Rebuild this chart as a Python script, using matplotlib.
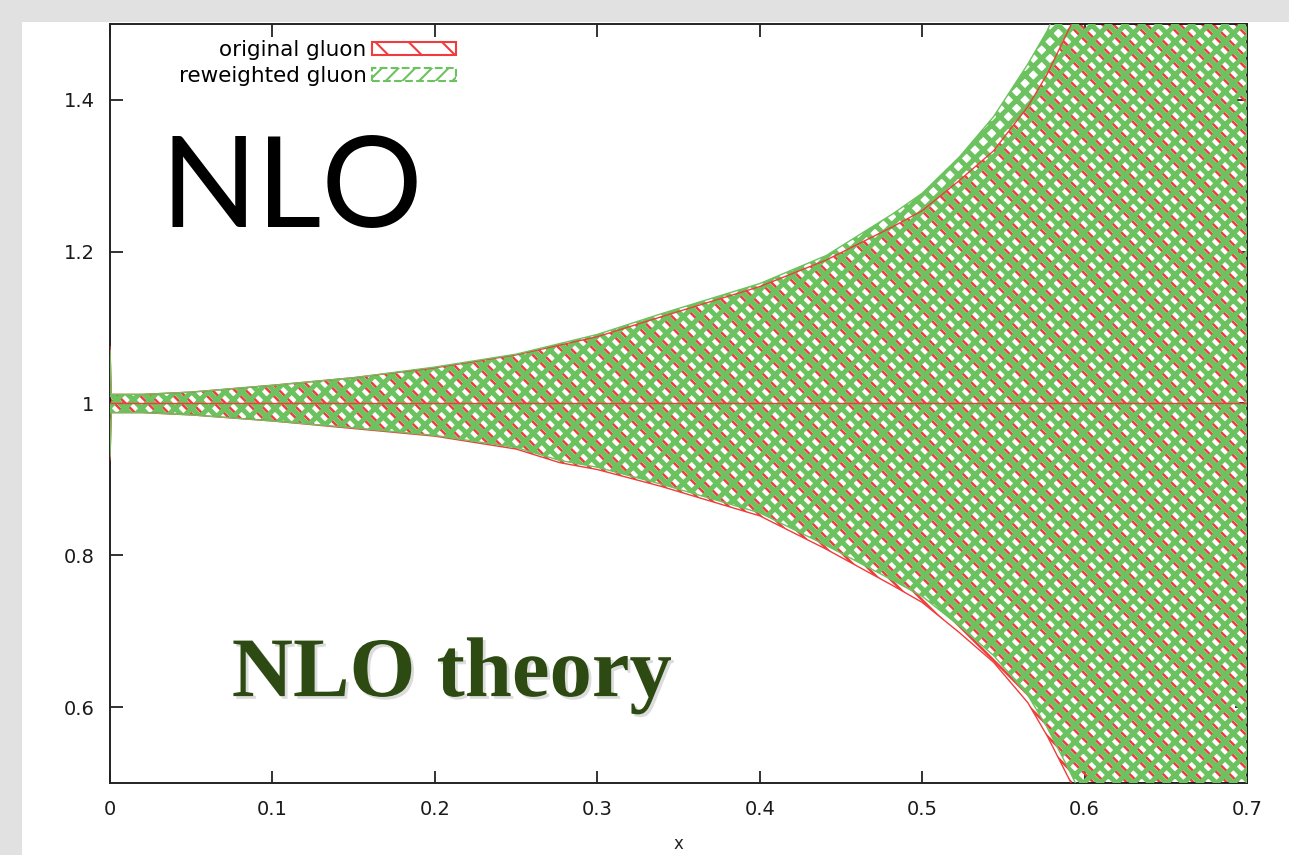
import matplotlib
matplotlib.use("Agg")
import matplotlib.pyplot as plt
import matplotlib.patheffects as pe
from matplotlib.patches import Patch, Rectangle

# ---- data ----
x_vals = [0.0, 0.0008, 0.02, 0.05, 0.1, 0.15, 0.2, 0.25, 0.277, 0.3, 0.339, 0.4,
          0.441, 0.482, 0.5, 0.523, 0.544, 0.565, 0.577, 0.591, 0.6, 0.65, 0.7]
orig_hi = [1.075, 1.012, 1.012, 1.015, 1.024, 1.034, 1.047, 1.064, 1.077, 1.088, 1.114, 1.154,
           1.189, 1.233, 1.254, 1.294, 1.333, 1.391, 1.434, 1.496, 1.540, 1.900, 2.500]
orig_lo = [0.926, 0.988, 0.988, 0.985, 0.977, 0.967, 0.957, 0.940, 0.922, 0.913, 0.891, 0.852,
           0.808, 0.760, 0.738, 0.698, 0.659, 0.606, 0.562, 0.503, 0.460, 0.100, -0.400]
rew_hi = [1.070, 1.012, 1.012, 1.015, 1.024, 1.034, 1.048, 1.065, 1.079, 1.091, 1.118, 1.158,
          1.195, 1.250, 1.277, 1.325, 1.378, 1.447, 1.491, 1.560, 1.620, 2.000, 2.600]
rew_lo = [0.930, 0.988, 0.988, 0.985, 0.977, 0.968, 0.958, 0.942, 0.925, 0.916, 0.894, 0.856,
          0.813, 0.767, 0.746, 0.707, 0.668, 0.616, 0.573, 0.515, 0.475, 0.120, -0.380]
central = [1.0] * len(x_vals)

x_ticks = [0, 0.1, 0.2, 0.3, 0.4, 0.5, 0.6, 0.7]
x_ticklabels = ["0", "0.1", "0.2", "0.3", "0.4", "0.5", "0.6", "0.7"]
y_ticks = [0.6, 0.8, 1.0, 1.2, 1.4]
y_ticklabels = ["0.6", "0.8", "1", "1.2", "1.4"]

RED = "#f03c3c"
GREEN = "#6cc25e"

fig = plt.figure(figsize=(12.89, 8.55), dpi=100, facecolor="#e1e1e1")
fig.patches.append(Rectangle((22 / 1289, 0), 1, 1 - 22 / 855, transform=fig.transFigure,
                             facecolor="white", edgecolor="none", zorder=-10))
ax = fig.add_axes([110 / 1289, 1 - 783 / 855, (1247 - 110) / 1289, (783 - 24) / 855])


def hatch_lw(artist, lw):
    # per-artist hatch width where the installed matplotlib supports it
    if hasattr(artist, "set_hatch_linewidth"):
        artist.set_hatch_linewidth(lw)


# original gluon band (red) underneath, reweighted (green) on top
plt.rcParams["hatch.linewidth"] = 1.8
red_band = ax.fill_between(x_vals, orig_lo, orig_hi, facecolor="none", edgecolor=RED,
                           hatch="\\\\\\", linewidth=0, zorder=2)
hatch_lw(red_band, 1.8)
plt.rcParams["hatch.linewidth"] = 3.6
green_band = ax.fill_between(x_vals, rew_lo, rew_hi, facecolor="none", edgecolor=GREEN,
                             hatch="xx", linewidth=0, zorder=3)
hatch_lw(green_band, 3.6)
plt.rcParams["hatch.linewidth"] = 1.5

ax.plot(x_vals, orig_hi, color=RED, lw=1.0, zorder=4)
ax.plot(x_vals, orig_lo, color=RED, lw=1.0, zorder=4)
ax.plot(x_vals, rew_hi, color=GREEN, lw=1.0, zorder=4)
ax.plot(x_vals, rew_lo, color=GREEN, lw=1.0, zorder=4)
ax.plot(x_vals, central, color=RED, lw=1.0, zorder=5)

ax.set_xlim(0, 0.7)
ax.set_ylim(0.5, 1.5)
ax.set_xticks(x_ticks)
ax.set_xticklabels(x_ticklabels)
ax.set_yticks(y_ticks)
ax.set_yticklabels(y_ticklabels)
ax.tick_params(direction="in", length=9, width=1.3, top=True, right=True,
               labelsize=14, labelcolor="#1a1a1a", color="#222222")
ax.tick_params(axis="x", pad=12)
ax.tick_params(axis="y", pad=11)
for s in ax.spines.values():
    s.set_linewidth(1.4)
    s.set_color("#222222")
ax.set_xlabel("x", fontsize=12, labelpad=12, color="#222222")

# legend in the gnuplot style: text left of the swatch
handles = [Patch(facecolor="white", edgecolor=RED, hatch="\\", linewidth=1.5),
           Patch(facecolor="white", edgecolor=GREEN, hatch="//", linewidth=1.5, linestyle="--")]
for h in handles:
    hatch_lw(h, 1.5)
ax.legend(handles, ["original gluon", "reweighted gluon"], loc="upper right",
          bbox_to_anchor=(456 / 1289, 1 - 40 / 855), bbox_transform=fig.transFigure,
          frameon=False, markerfirst=False, fontsize=15.5, handlelength=3.9,
          handleheight=0.55, handletextpad=0.25, labelspacing=0.3, borderpad=0,
          borderaxespad=0)

ax.text(0.031, 1.232, "NLO", family="Lato", fontsize=91, color="black",
        ha="left", va="baseline", zorder=6)
ax.text(0.075, 0.6145, "NLO theory", family="Liberation Serif", fontweight="bold",
        fontsize=61, color="#2d4a12", ha="left", va="baseline", zorder=6,
        path_effects=[pe.SimplePatchShadow(offset=(2, -2), shadow_rgbFace="#bbbbbb", alpha=0.5),
                      pe.Normal()])

fig.savefig("out.png", dpi=100, facecolor=fig.get_facecolor())
